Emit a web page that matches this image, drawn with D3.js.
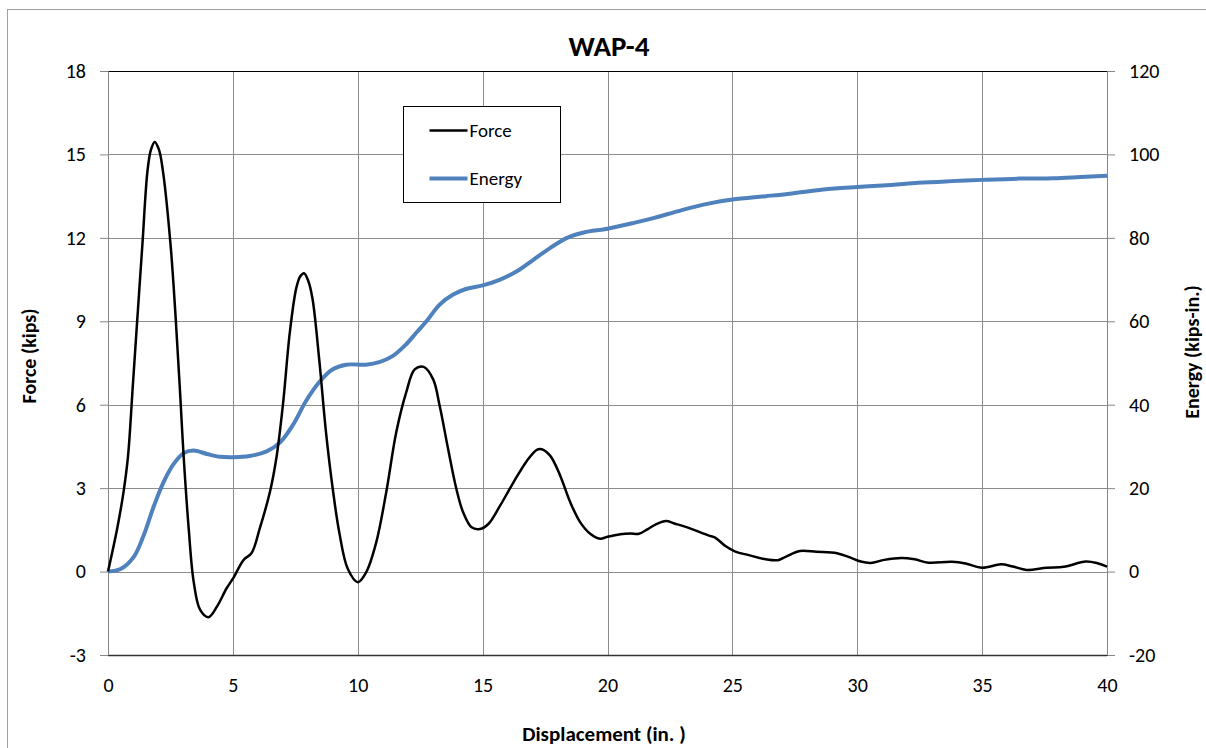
<!DOCTYPE html>
<html>
<head>
<meta charset="utf-8">
<script src="https://cdn.jsdelivr.net/npm/d3@7"></script>
<style>
  body { margin: 0; background: #fff; overflow: hidden; }
  svg { display: block; }
  text { font-family: Carlito, Lato, "Open Sans", sans-serif; }
</style>
</head>
<body>
<script>
// force curve (kips) vs displacement (in.)
var forceDisp = [0, 0.37, 0.62, 0.80, 1.0, 1.19, 1.38, 1.58, 1.72, 1.87, 2.04, 2.20, 2.50, 2.70, 2.87, 3.03, 3.23, 3.43, 3.69, 4.02, 4.36, 4.75,
  5.02, 5.42, 5.75, 6.08, 6.48, 6.75, 7.01, 7.28, 7.54, 7.70, 7.85, 8.02, 8.19, 8.46, 8.73, 9.0, 9.26, 9.6, 10.0, 10.34, 10.74, 11.14,
  11.54, 11.94, 12.28, 12.64, 13.02, 13.28, 13.62, 13.95, 14.22, 14.56, 14.89, 15.23, 15.7, 16.23, 16.77, 17.17, 17.37, 17.71, 18.11, 18.51,
  18.91, 19.32, 19.7, 20.0, 20.51, 20.92, 21.26, 21.6, 21.94, 22.34, 22.68, 23.22, 24.04, 24.31, 24.72, 25.12, 25.66, 26.34, 26.82, 27.15,
  27.7, 28.37, 29.19, 29.73, 30.14, 30.54, 31.08, 31.76, 32.3, 32.85, 33.79, 34.34, 35.0, 35.76, 36.23, 36.78, 37.59, 38.27, 39.15, 39.62, 40.0];
var force = [0, 1.56, 2.85, 4.13, 6.77, 9.3, 11.8, 14.4, 15.17, 15.45, 15.17, 14.4, 11.8, 9.26, 6.7, 4.13, 1.56, -0.36, -1.38, -1.64, -1.26, -0.6,
  -0.23, 0.41, 0.67, 1.56, 2.85, 4.13, 6.05, 8.6, 10.2, 10.62, 10.73, 10.45, 9.8, 7.6, 5.0, 2.97, 1.41, 0.1, -0.38, -0.02, 1.05, 2.85,
  5.0, 6.44, 7.27, 7.36, 6.91, 5.96, 4.4, 2.97, 2.13, 1.59, 1.53, 1.71, 2.37, 3.2, 3.98, 4.38, 4.40, 4.16, 3.44, 2.49,
  1.77, 1.35, 1.18, 1.25, 1.34, 1.37, 1.36, 1.52, 1.7, 1.82, 1.73, 1.58, 1.3, 1.22, 0.92, 0.72, 0.59, 0.44, 0.41, 0.54,
  0.74, 0.71, 0.66, 0.5, 0.36, 0.31, 0.42, 0.49, 0.44, 0.32, 0.35, 0.29, 0.14, 0.26, 0.18, 0.06, 0.14, 0.17, 0.36, 0.3, 0.18];

// energy curve (kips-in.)
var energyDisp = [0, 0.5, 1.04, 1.43, 1.83, 2.23, 2.63, 3.03, 3.43, 3.96, 4.49, 5.02, 5.68, 6.35, 6.88, 7.41, 7.94, 8.47, 9.0, 9.54,
  10.33, 10.86, 11.41, 11.94, 12.35, 12.75, 13.28, 13.82, 14.36, 15.0, 15.7, 16.37, 17.04, 17.71, 18.38, 19.05, 20.0, 21.06, 21.87, 22.95,
  24.04, 25.0, 26.34, 27.29, 28.64, 30.0, 31.36, 32.44, 33.79, 35.0, 36.5, 37.86, 38.94, 40.0];
var energy = [0, 0.6, 3.6, 8.7, 15.6, 21.5, 25.8, 28.4, 29.0, 28.2, 27.5, 27.4, 27.7, 28.8, 30.9, 35.2, 41.0, 45.5, 48.5, 49.6,
  49.6, 50.2, 51.7, 54.5, 57.3, 60.0, 64.0, 66.4, 67.8, 68.6, 70.0, 72.0, 74.8, 77.6, 80.0, 81.3, 82.2, 83.6, 84.8, 86.6,
  88.2, 89.2, 90.0, 90.6, 91.6, 92.2, 92.7, 93.2, 93.6, 93.9, 94.2, 94.3, 94.6, 94.9];

var xTicks = [0, 5, 10, 15, 20, 25, 30, 35, 40];
var forceTicks = [-3, 0, 3, 6, 9, 12, 15, 18];
var energyTicks = [-20, 0, 20, 40, 60, 80, 100, 120];

var W = 1206, H = 748;
var margin = {top: 71, left: 108, right: 99, bottom: 93};
var w = W - margin.left - margin.right,
    h = H - margin.top - margin.bottom;

var svg = d3.select("body").append("svg")
    .attr("width", W)
    .attr("height", H);

// outer chart frame (runs off the right and bottom)
svg.append("rect")
  .attr("x", 7.5).attr("y", 9.5)
  .attr("width", W + 20).attr("height", H + 20)
  .attr("fill", "none").attr("stroke", "#a0a0a0");

var x = d3.scaleLinear().domain([0, 40]).range([0, w]);
var yF = d3.scaleLinear().domain([-3, 18]).range([h, 0]);
var yE = d3.scaleLinear().domain([-20, 120]).range([h, 0]);

var g = svg.append("g").attr("transform", "translate(" + margin.left + "," + margin.top + ")");

// grid
g.append("g").selectAll("line").data(forceTicks).enter().append("line")
  .attr("x1", 0).attr("x2", w)
  .attr("y1", function(d) { return Math.round(yF(d)) + 0.5; })
  .attr("y2", function(d) { return Math.round(yF(d)) + 0.5; })
  .attr("stroke", "#8c8c8c").attr("stroke-width", 1);
g.append("g").selectAll("line").data(xTicks).enter().append("line")
  .attr("y1", 0).attr("y2", h)
  .attr("x1", function(d) { return Math.round(x(d)) + 0.5; })
  .attr("x2", function(d) { return Math.round(x(d)) + 0.5; })
  .attr("stroke", "#8c8c8c").attr("stroke-width", 1);

// top and bottom edges darker
g.append("line").attr("x1", 0).attr("x2", w).attr("y1", 0.5).attr("y2", 0.5).attr("stroke", "#000");
g.append("line").attr("x1", 0).attr("x2", w).attr("y1", h + 0.5).attr("y2", h + 0.5).attr("stroke", "#333").attr("stroke-width", 1.5);

var fmt = function(d) { return String(d); };

// axes
var axL = g.append("g").call(d3.axisLeft(yF).tickValues(forceTicks).tickFormat(fmt).tickSize(8).tickPadding(14));
var axR = g.append("g").attr("transform", "translate(" + w + ",0)")
  .call(d3.axisRight(yE).tickValues(energyTicks).tickFormat(fmt).tickSize(8).tickPadding(14));
var axB = g.append("g").attr("transform", "translate(0," + h + ")")
  .call(d3.axisBottom(x).tickValues(xTicks).tickFormat(fmt).tickSize(0).tickPadding(23));
[axL, axR, axB].forEach(function(a) {
  a.selectAll("path").attr("stroke", "#868686");
  a.selectAll("line").attr("stroke", "#868686");
  a.selectAll("text").attr("font-size", 20).attr("fill", "#000")
    .style("font-family", "Carlito, Lato, sans-serif");
});
axB.select("path").attr("stroke", "#333");

// lines
var lineF = d3.line()
  .x(function(d, i) { return x(forceDisp[i]); })
  .y(function(d) { return yF(d); })
  .curve(d3.curveCatmullRom.alpha(0.5));
var lineE = d3.line()
  .x(function(d, i) { return x(energyDisp[i]); })
  .y(function(d) { return yE(d); })
  .curve(d3.curveCatmullRom.alpha(0.5));

g.append("path").datum(energy).attr("d", lineE)
  .attr("fill", "none").attr("stroke", "#4f81bd").attr("stroke-width", 4);
g.append("path").datum(force).attr("d", lineF)
  .attr("fill", "none").attr("stroke", "#000").attr("stroke-width", 2.5);

// legend
var leg = svg.append("g").attr("transform", "translate(403.5,106.5)");
leg.append("rect").attr("width", 157).attr("height", 96)
  .attr("fill", "#fff").attr("stroke", "#000").attr("stroke-width", 1);
var items = [{name: "Force", color: "#000", sw: 2.5}, {name: "Energy", color: "#4f81bd", sw: 4}];
items.forEach(function(it, i) {
  var yy = 24 + i * 48;
  leg.append("line").attr("x1", 26).attr("x2", 64).attr("y1", yy).attr("y2", yy)
    .attr("stroke", it.color).attr("stroke-width", it.sw);
  leg.append("text").attr("x", 66).attr("y", yy).attr("dy", "0.35em")
    .attr("font-size", 19).text(it.name);
});

// titles
svg.append("text").attr("x", 609).attr("y", 56).attr("text-anchor", "middle")
  .attr("font-size", 29).attr("font-weight", "bold").text("WAP-4");
svg.append("text").attr("x", 604).attr("y", 741).attr("text-anchor", "middle")
  .attr("font-size", 21).attr("font-weight", "bold").text("Displacement (in. )");
svg.append("text").attr("transform", "translate(36,356) rotate(-90)").attr("text-anchor", "middle")
  .attr("font-size", 20).attr("font-weight", "bold").text("Force (kips)");
svg.append("text").attr("transform", "translate(1199,352) rotate(-90)").attr("text-anchor", "middle")
  .attr("font-size", 20).attr("font-weight", "bold").text("Energy (kips-in.)");
</script>
</body>
</html>
